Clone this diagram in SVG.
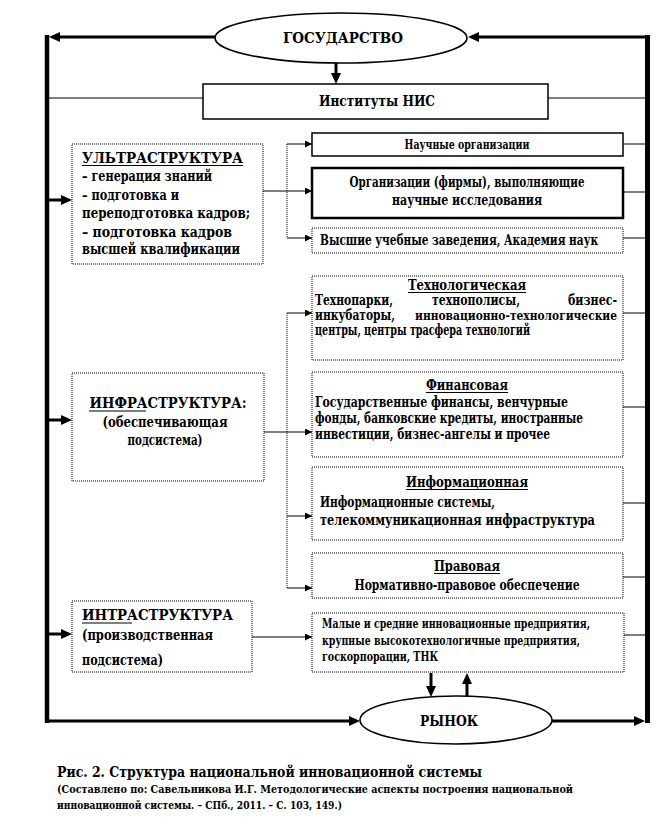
<svg xmlns="http://www.w3.org/2000/svg" width="660" height="828" viewBox="0 0 660 828">
<style>
text{font-family:"DejaVu Serif Condensed","DejaVu Serif","Liberation Serif",serif;font-stretch:condensed;font-weight:bold;fill:#000}
.t15{font-size:15px}
.t14{font-size:14px}
.t12{font-size:12.5px}
.t11{font-size:11px}
.mid{text-anchor:middle}
.end{text-anchor:end}
.dot{fill:#fff;stroke:#000;stroke-width:1;stroke-dasharray:1 1}
.solid{fill:#fff;stroke:#000;stroke-width:1.5}
.thick{fill:#fff;stroke:#000;stroke-width:2.5}
.ell{fill:#fff;stroke:#000;stroke-width:1.6}
.main{stroke:#000;stroke-width:3;fill:none}
.thin{stroke:#000;stroke-width:1;fill:none}
.vdot{stroke:#000;stroke-width:1;stroke-dasharray:1 1;fill:none}
.ul{stroke:#000;stroke-width:1.2}
</style>
<defs>
<marker id="ab" markerWidth="11" markerHeight="10" refX="7" refY="5" orient="auto" markerUnits="userSpaceOnUse"><path d="M0,0 L11,5 L0,10 z" fill="#000"/></marker>
<marker id="as" markerWidth="7" markerHeight="7" refX="7" refY="3.5" orient="auto" markerUnits="userSpaceOnUse"><path d="M0,0 L7,3.5 L0,7 z" fill="#000"/></marker>
</defs>
<rect width="660" height="828" fill="#fff"/>

<g id="connectors">
<line class="main" x1="215" y1="37" x2="53" y2="37" marker-end="url(#ab)"/>
<line x1="47" y1="35" x2="47" y2="723" stroke="#000" stroke-width="4.5"/>
<line class="main" x1="47" y1="721" x2="356" y2="721" marker-end="url(#ab)"/>
<line class="main" x1="552" y1="721" x2="641" y2="721" marker-end="url(#ab)"/>
<line x1="647.5" y1="35" x2="647.5" y2="723" stroke="#000" stroke-width="5"/>
<line class="main" x1="646" y1="37" x2="472" y2="37" marker-end="url(#ab)"/>
<line class="main" x1="336" y1="63" x2="336" y2="80" marker-end="url(#ab)"/>
<line class="thin" x1="203" y1="98" x2="47" y2="98"/>
<line class="thin" x1="548" y1="98" x2="647" y2="98"/>
<line class="main" x1="49" y1="200" x2="68" y2="200" marker-end="url(#ab)"/>
<line class="main" x1="49" y1="420" x2="68" y2="420" marker-end="url(#ab)"/>
<line class="main" x1="49" y1="634" x2="68" y2="634" marker-end="url(#ab)"/>
<line class="thin" x1="263" y1="191" x2="312" y2="191" marker-end="url(#as)"/>
<line class="vdot" x1="287" y1="144" x2="287" y2="238"/>
<line class="thin" x1="287" y1="144" x2="312" y2="144" marker-end="url(#as)"/>
<line class="thin" x1="287" y1="238" x2="312" y2="238" marker-end="url(#as)"/>
<line class="thin" x1="264" y1="432" x2="312" y2="432" marker-end="url(#as)"/>
<line class="vdot" x1="287" y1="313" x2="287" y2="588"/>
<line class="thin" x1="287" y1="313" x2="312" y2="313" marker-end="url(#as)"/>
<line class="thin" x1="287" y1="516" x2="312" y2="516" marker-end="url(#as)"/>
<line class="thin" x1="287" y1="588" x2="312" y2="588" marker-end="url(#as)"/>
<line class="thin" x1="252" y1="637" x2="312" y2="637" marker-end="url(#as)"/>
<line class="thin" x1="623" y1="144" x2="647" y2="144"/>
<line class="thin" x1="623" y1="192" x2="647" y2="192"/>
<line class="thin" x1="623" y1="238" x2="647" y2="238"/>
<line class="thin" x1="623" y1="313" x2="647" y2="313"/>
<line class="thin" x1="623" y1="407" x2="647" y2="407"/>
<line class="thin" x1="623" y1="503" x2="647" y2="503"/>
<line class="thin" x1="623" y1="577" x2="647" y2="577"/>
<line class="thin" x1="624" y1="635" x2="647" y2="635"/>
<line class="main" x1="431" y1="673" x2="431" y2="693" marker-end="url(#ab)"/>
<line class="main" x1="467" y1="697" x2="467" y2="677" marker-end="url(#ab)"/>
</g>

<g id="gosudarstvo">
<ellipse class="ell" cx="341" cy="38" rx="126" ry="25"/>
<text class="t15 mid" x="343" y="43" textLength="120" lengthAdjust="spacingAndGlyphs">ГОСУДАРСТВО</text>
</g>

<g id="instituty">
<rect class="solid" x="203" y="84" width="345" height="35"/>
<text class="t15 mid" x="377" y="106" textLength="116" lengthAdjust="spacingAndGlyphs">Институты НИС</text>
</g>

<g id="ultra">
<rect class="dot" x="72" y="144" width="191" height="120"/>
<text class="t15" x="82" y="163" textLength="161" lengthAdjust="spacingAndGlyphs">УЛЬТРАСТРУКТУРА</text>
<line class="ul" x1="82" y1="165.5" x2="243" y2="165.5"/>
<text class="t15" x="82" y="181" textLength="130" lengthAdjust="spacingAndGlyphs">– генерация знаний</text>
<text class="t15" x="82" y="200" textLength="97" lengthAdjust="spacingAndGlyphs">– подготовка и</text>
<text class="t15" x="82" y="218" textLength="168" lengthAdjust="spacingAndGlyphs">переподготовка кадров;</text>
<text class="t15" x="82" y="237" textLength="150" lengthAdjust="spacingAndGlyphs">– подготовка кадров</text>
<text class="t15" x="82" y="254" textLength="158" lengthAdjust="spacingAndGlyphs">высшей квалификации</text>
</g>

<g id="nauchnye">
<rect class="solid" x="312" y="133" width="311" height="23" stroke-width="2"/>
<text class="t12 mid" x="467" y="149" textLength="125" lengthAdjust="spacingAndGlyphs">Научные организации</text>
</g>

<g id="organizacii">
<rect class="thick" x="312" y="168" width="311" height="50"/>
<text class="t14 mid" x="467" y="187" textLength="235" lengthAdjust="spacingAndGlyphs">Организации  (фирмы), выполняющие</text>
<text class="t14 mid" x="467" y="205" textLength="150" lengthAdjust="spacingAndGlyphs">научные исследования</text>
</g>

<g id="vuzy">
<rect class="dot" x="312" y="228" width="311" height="25"/>
<text class="t14" x="320" y="245" textLength="278" lengthAdjust="spacingAndGlyphs">Высшие учебные заведения, Академия наук</text>
</g>

<g id="infra">
<rect class="dot" x="72" y="373" width="192" height="108"/>
<text class="t15 mid" x="168" y="408" textLength="157" lengthAdjust="spacingAndGlyphs">ИНФРАСТРУКТУРА:</text>
<line class="ul" x1="89" y1="411" x2="146" y2="411"/>
<text class="t15 mid" x="165" y="427" textLength="125" lengthAdjust="spacingAndGlyphs">(обеспечивающая</text>
<text class="t15 mid" x="165" y="445" textLength="75" lengthAdjust="spacingAndGlyphs">подсистема)</text>
</g>

<g id="tehnologicheskaya">
<rect class="dot" x="312" y="276" width="311" height="84"/>
<text class="t14 mid" x="467" y="290" textLength="118" lengthAdjust="spacingAndGlyphs">Технологическая</text>
<line class="ul" x1="408" y1="292.5" x2="526" y2="292.5"/>
<text class="t14" x="315" y="305" textLength="78" lengthAdjust="spacingAndGlyphs">Технопарки,</text>
<text class="t14" x="432" y="305" textLength="88" lengthAdjust="spacingAndGlyphs">технополисы,</text>
<text class="t14" x="568" y="305" textLength="49" lengthAdjust="spacingAndGlyphs">бизнес-</text>
<text class="t14" x="315" y="320" textLength="80" lengthAdjust="spacingAndGlyphs">инкубаторы,</text>
<text class="t12" x="415" y="320" textLength="202" lengthAdjust="spacingAndGlyphs">инновационно-технологические</text>
<text class="t14" x="315" y="335" textLength="215" lengthAdjust="spacingAndGlyphs">центры, центры  трасфера технологий</text>
</g>

<g id="finansovaya">
<rect class="dot" x="312" y="372" width="311" height="85"/>
<text class="t14 mid" x="467" y="390" textLength="82" lengthAdjust="spacingAndGlyphs">Финансовая</text>
<line class="ul" x1="426" y1="392.5" x2="508" y2="392.5"/>
<text class="t14" x="315" y="407" textLength="253" lengthAdjust="spacingAndGlyphs">Государственные финансы, венчурные</text>
<text class="t14" x="315" y="423" textLength="268" lengthAdjust="spacingAndGlyphs">фонды, банковские кредиты, иностранные</text>
<text class="t14" x="315" y="439" textLength="235" lengthAdjust="spacingAndGlyphs">инвестиции,  бизнес-ангелы и прочее</text>
</g>

<g id="informacionnaya">
<rect class="dot" x="312" y="467" width="311" height="73"/>
<text class="t14 mid" x="467" y="487" textLength="122" lengthAdjust="spacingAndGlyphs">Информационная</text>
<line class="ul" x1="406" y1="489.5" x2="528" y2="489.5"/>
<text class="t15" x="320" y="507" textLength="175" lengthAdjust="spacingAndGlyphs">Информационные системы,</text>
<text class="t15" x="320" y="525" textLength="275" lengthAdjust="spacingAndGlyphs">телекоммуникационная инфраструктура</text>
</g>

<g id="pravovaya">
<rect class="dot" x="312" y="553" width="311" height="45"/>
<text class="t14 mid" x="467" y="571" textLength="66" lengthAdjust="spacingAndGlyphs">Правовая</text>
<line class="ul" x1="434" y1="573.5" x2="500" y2="573.5"/>
<text class="t15 mid" x="467" y="590" textLength="225" lengthAdjust="spacingAndGlyphs">Нормативно-правовое обеспечение</text>
</g>

<g id="intra">
<rect class="dot" x="72" y="601" width="180" height="71"/>
<text class="t15" x="82" y="620" textLength="151" lengthAdjust="spacingAndGlyphs">ИНТРАСТРУКТУРА</text>
<line class="ul" x1="82" y1="623" x2="132" y2="623"/>
<text class="t15" x="82" y="640" textLength="131" lengthAdjust="spacingAndGlyphs">(производственная</text>
<text class="t15" x="82" y="665" textLength="81" lengthAdjust="spacingAndGlyphs">подсистема)</text>
</g>

<g id="predpriyatiya">
<rect class="dot" x="312" y="613" width="312" height="59"/>
<text class="t12" x="322" y="628" textLength="268" lengthAdjust="spacingAndGlyphs">Малые и средние инновационные предприятия,</text>
<text class="t12" x="322" y="645" textLength="258" lengthAdjust="spacingAndGlyphs">крупные высокотехнологичные  предприятия,</text>
<text class="t12" x="322" y="661" textLength="116" lengthAdjust="spacingAndGlyphs">госкорпорации, ТНК</text>
</g>

<g id="rynok">
<ellipse class="ell" cx="456" cy="720" rx="96" ry="24"/>
<text class="t15 mid" x="449" y="726" textLength="58" lengthAdjust="spacingAndGlyphs">РЫНОК</text>
</g>

<g id="caption">
<text class="t15" x="57" y="777" textLength="425" lengthAdjust="spacingAndGlyphs">Рис. 2. Структура  национальной  инновационной  системы</text>
<text class="t11" x="57" y="793" textLength="516" lengthAdjust="spacingAndGlyphs">(Составлено  по: Савельникова И.Г. Методологические  аспекты построения национальной</text>
<text class="t11" x="57" y="809" textLength="285" lengthAdjust="spacingAndGlyphs">инновационной системы. – СПб.,  2011.  – С.  103,  149.)</text>
</g>
</svg>
